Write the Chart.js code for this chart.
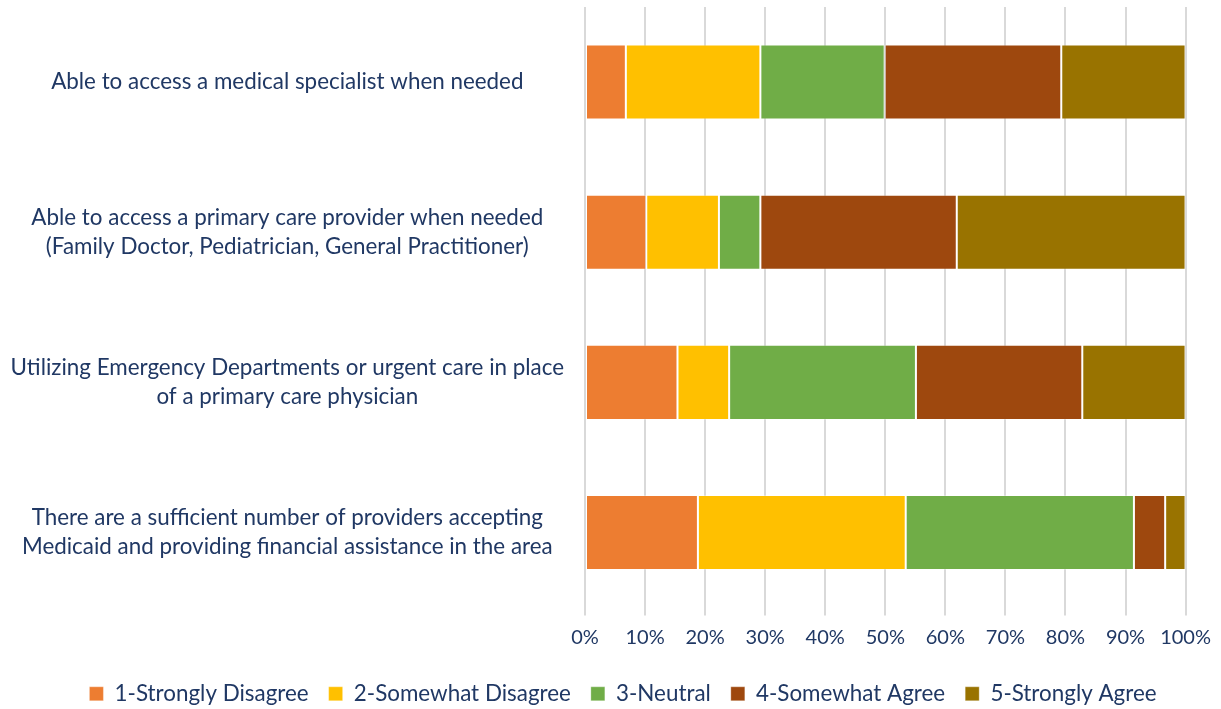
<!DOCTYPE html>
<html>
<head>
<meta charset="utf-8">
<script src="https://cdn.jsdelivr.net/npm/chart.js@4"></script>
<style>
    html, body { margin: 0; padding: 0; background: #fff; }
    #wrap { width: 1221px; height: 709px; }
</style>
</head>
<body>
<div id="wrap"><canvas id="chart"></canvas></div>
<script>
// Categories (top to bottom) - wrapped as in the original
const categories = [
    ['Able to access a medical specialist when needed'],
    ['Able to access a primary care provider when needed', '(Family Doctor, Pediatrician, General Practitioner)'],
    ['Utilizing Emergency Departments or urgent care in place', 'of a primary care physician'],
    ['There are a sufficient number of providers accepting', 'Medicaid and providing financial assistance in the area']
];

const seriesNames = ['1-Strongly Disagree', '2-Somewhat Disagree', '3-Neutral', '4-Somewhat Agree', '5-Strongly Agree'];

// Percent of responses per category
const stronglyDisagree = [6.8, 10.2, 15.4, 18.8];
const somewhatDisagree = [22.4, 12.1, 8.6, 34.6];
const neutral          = [20.7, 6.9, 31.1, 38.0];
const somewhatAgree    = [29.4, 32.7, 27.7, 5.2];
const stronglyAgree    = [20.7, 38.1, 17.2, 3.4];

const xTicks = [0, 10, 20, 30, 40, 50, 60, 70, 80, 90, 100];

const colors = ['#ED7D31', '#FFC000', '#70AD47', '#9E480E', '#997300'];
const textColor = '#203864';
const fontFamily = 'Lato, "Open Sans", sans-serif';

const seriesValues = [stronglyDisagree, somewhatDisagree, neutral, somewhatAgree, stronglyAgree];

const datasets = seriesNames.map((name, i) => ({
    label: name,
    data: seriesValues[i],
    backgroundColor: colors[i],
    borderColor: 'rgba(255,255,255,0.3)',
    borderWidth: 1,
    borderSkipped: false,
    categoryPercentage: 1,
    barPercentage: 0.5
}));

new Chart(document.getElementById('chart'), {
    type: 'bar',
    data: { labels: categories, datasets },
    options: {
        indexAxis: 'y',
        responsive: true,
        maintainAspectRatio: false,
        animation: false,
        // left padding only nudges the legend to the right; y axis width makes up for it
        layout: { padding: { top: 7, right: 33, bottom: -6, left: 58 } },
        plugins: {
            tooltip: { enabled: false },
            legend: {
                position: 'bottom',
                labels: {
                    color: textColor,
                    font: { family: fontFamily, size: 22.4, lineHeight: 0.6 },
                    boxWidth: 14,
                    boxHeight: 14,
                    padding: 20
                }
            }
        },
        scales: {
            x: {
                stacked: true,
                min: 0,
                max: 100,
                afterBuildTicks: scale => { scale.ticks = xTicks.map(v => ({ value: v })); },
                afterFit: scale => { scale.height = 55; },
                ticks: {
                    color: textColor,
                    font: { family: fontFamily, size: 20 },
                    padding: 10,
                    callback: v => v + '%'
                },
                grid: { color: '#D9D9D9', lineWidth: 2, tickLength: 8 },
                border: { display: false }
            },
            y: {
                stacked: true,
                afterFit: scale => {
                    scale.width = 527;
                    scale.paddingTop = 0;
                    scale.paddingBottom = 0;
                    // labels run into the left padding, so don't clip them to the axis box
                    scale._computeLabelArea = () => undefined;
                },
                ticks: {
                    color: textColor,
                    font: { family: fontFamily, size: 22.4, lineHeight: 1.3 },
                    crossAlign: 'center',
                    padding: 13
                },
                grid: { display: false },
                border: { display: false }
            }
        }
    }
});
</script>
</body>
</html>
